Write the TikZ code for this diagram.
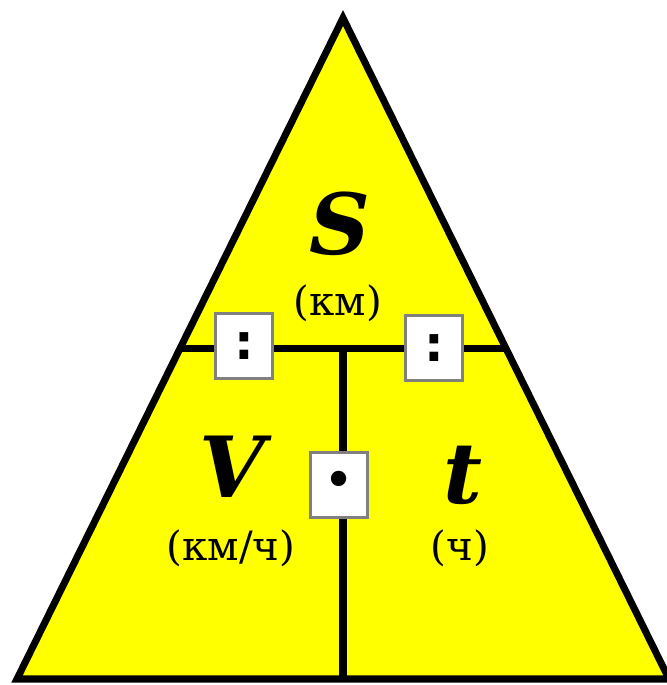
\documentclass[tikz,border=0pt]{standalone}
\usepackage{fontspec}
\setmainfont{DejaVu Serif}
\newfontfamily\signfont{DejaVu Sans}
\usetikzlibrary{calc}
\definecolor{triyellow}{RGB}{255,255,0}
\begin{document}
\begin{tikzpicture}[x=0.02cm, y=-0.02cm,
    edge_style/.style={line width=4pt, line join=miter},
    split_style/.style={line width=4.2pt},
    sign_style/.style={draw=gray, fill=white, line width=1.6pt, minimum width=1.14cm, minimum height=1.3cm, inner sep=0pt},
    letter_style/.style={font=\fontsize{48}{48}\selectfont\bfseries\itshape},
    unit_style/.style={font=\fontsize{23}{23}\selectfont}
]
\useasboundingbox (0,0) rectangle (666,685);
% corners of the triangle
\coordinate (top) at (343,18);
\coordinate (bl) at (17,679);
\coordinate (br) at (669,679);
\coordinate (hl) at ($(top)!0.5!(bl)$);
\coordinate (hr) at ($(top)!0.5!(br)$);
\coordinate (hm) at (343,348);
\coordinate (bm) at (343,679);
\fill[triyellow] (top) -- (bl) -- (br) -- cycle;
\draw[split_style] (hl) -- (hr);
\draw[split_style] (hm) -- (bm);
\draw[edge_style] (top) -- (bl) -- (br) -- cycle;
% quantities
\node[letter_style] (s) at (340,224) {S};
\node[unit_style] (su) at (338,303) {(км)};
\node[letter_style] (v) at (232,467) {V};
\node[unit_style] (vu) at (231,548) {(км/ч)};
\node[letter_style] (t) at (463,475) {t};
\node[unit_style] (tu) at (460,548) {(ч)};
% operation signs
\node[sign_style, font=\signfont\bfseries\fontsize{28}{28}\selectfont] (d1) at (244,346) {:};
\node[sign_style, font=\signfont\bfseries\fontsize{28}{28}\selectfont] (d2) at (434,348) {:};
\node[sign_style, font=\signfont\fontsize{30}{30}\selectfont] (m) at (339,485) {•};
\end{tikzpicture}
\end{document}
